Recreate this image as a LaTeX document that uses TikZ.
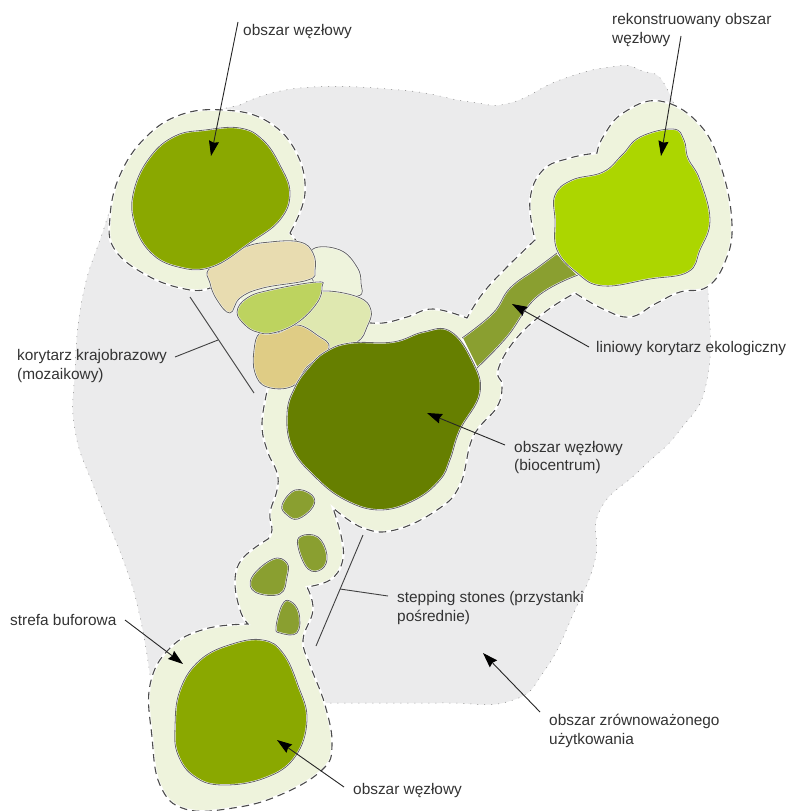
\documentclass[tikz,border=0pt]{standalone}
\usepackage{fontspec}
\setmainfont{Liberation Sans}
\usetikzlibrary{arrows.meta}
\definecolor{areagrey}{HTML}{EBEBEC}
\definecolor{bufcol}{HTML}{EEF3DC}
\definecolor{corecol}{HTML}{8AA800}
\definecolor{biocol}{HTML}{667F00}
\definecolor{recol}{HTML}{ACD600}
\definecolor{corridor}{HTML}{8A9F30}
\definecolor{tanA}{HTML}{E8DCB0}
\definecolor{tanB}{HTML}{DFCC85}
\definecolor{greenM}{HTML}{BDD35F}
\definecolor{paleM}{HTML}{DFE8B0}
\definecolor{inkc}{HTML}{333333}
\tikzset{
  smoothshape/.style={smooth cycle,tension=0.7},
  sm/.style={smooth,tension=0.7},
  halo/.style={draw=white,line width=1.7pt,fill=#1},
  edgeline/.style={draw=black!60,line width=0.8pt},
  lab/.style={font=\fontsize{15.4}{18.5}\selectfont,text=inkc,anchor=west,align=left,inner sep=0pt},
  arr/.style={draw=black!85,line width=0.9pt,-{Stealth[length=15pt,width=10pt,inset=1.5pt,black]}},
  lead/.style={draw=black!75,line width=0.9pt},
}
\newcommand{\patch}[2]{%
  \path[halo=#1] plot[smoothshape] coordinates {#2};
  \path[edgeline] plot[smoothshape] coordinates {#2};
}
\newcommand{\bufferpath}{
  plot[sm] coordinates {(290,233)(305,193)(295,150)(265,120)(223,110)(180,115)(145,138)(120,175)(110,217)(115,250)(150,277)(190,290)(210,288)}
  -- (240,300) -- (280,330) -- (272,380) --
  plot[sm] coordinates {(268,387)(262,423)(267,450)(277,473)(277,490)(270,513)(272,530)(268,539)}
  -- plot[sm] coordinates {(268,539)(243,558)(235,580)(240,610)(248,624)}
  -- plot[sm] coordinates {(248,624)(205,629)(170,648)(150,685)(152,737)(160,785)(185,809)(233,808)(280,795)(322,770)(332,745)(325,705)(310,665)(303,640)(313,610)(307,587)}
  -- plot[sm] coordinates {(307,587)(330,580)(342,563)(342,540)(333,508)}
  -- plot[sm] coordinates {(333,508)(363,528)(395,530)(437,510)(460,485)(473,437)(497,407)(502,385)(498,370)(515,340)(545,312)(575,293)}
  -- plot[sm] coordinates {(575,293)(603,309)(630,317)(655,304)(680,292)(707,287)(725,262)(732,225)(722,170)(700,125)(660,101)(623,113)(603,137)(597,153)}
  -- plot[sm] coordinates {(597,153)(570,158)(543,170)(530,200)(535,240)}
  -- plot[sm] coordinates {(535,240)(507,267)(483,293)(467,318)}
  -- plot[sm] coordinates {(467,318)(433,309)(407,317)(383,323)(362,322)}
  -- cycle
}
\begin{document}
\begin{tikzpicture}[x=1pt,y=-1pt]
\useasboundingbox (0,0) rectangle (792,811);
% managed area
\path[fill=areagrey,draw=black!50,line width=0.5pt,dash pattern=on 1pt off 6pt]
  plot[smooth,tension=.8] coordinates {(240,105)(300,88)(400,90)(470,102)(510,103)(560,80)(610,67)(640,70)(670,95)(700,200)(708,290)(707,380)(680,430)(640,470)(600,510)(595,560)(575,610)(545,670)(510,701)(440,703)(330,703)}
  -- (200,703) -- plot[smooth,tension=.8] coordinates {(150,675)(140,617)(125,565)(95,490)(75,430)(75,370)(82,300)(100,240)(125,180)(170,130)(240,105)};
% buffer zone
\path[fill=bufcol] \bufferpath;
\path[draw=white,line width=2.4pt] \bufferpath;
\path[draw=black!70,line width=1.1pt,dash pattern=on 7.5pt off 5pt] \bufferpath;
% linear corridor
\path[halo=corridor] (557,253) -- plot[sm] coordinates {(557,253)(537,268)(510,288)(493,313)(462,338)} -- (477,368) -- plot[sm] coordinates {(477,368)(507,337)(537,297)(578,275)} -- cycle;
\path[edgeline] plot[sm] coordinates {(557,253)(537,268)(510,288)(493,313)(462,338)};
\path[edgeline] plot[sm] coordinates {(477,368)(507,337)(537,297)(578,275)};
% mosaic corridor
\patch{bufcol}{(313,249)(340,250)(357,267)(361,283)(358,296)(323,292)(310,270)}
\patch{paleM}{(323,291)(358,297)(371,310)(367,327)(357,342)(330,350)(297,325)(310,300)}
\patch{tanB}{(260,333)(277,333)(297,325)(317,335)(329,348)(307,367)(293,386)(267,387)(255,373)(254,350)}
\patch{tanA}{(210,268)(243,248)(270,242)(300,242)(313,253)(315,270)(308,280)(263,288)(240,298)(230,313)(217,300)(210,283)}
\patch{greenM}{(237,312)(247,298)(270,290)(317,282)(322,287)(317,303)(297,323)(273,333)(257,332)(245,325)}
% core areas
\patch{corecol}{(212,267)(178,267)(150,252)(134,222)(134,190)(150,157)(175,136)(205,130)(240,128)(263,140)(280,165)(290,193)(280,220)(250,243)}
\patch{recol}{(555,195)(572,180)(603,172)(622,155)(640,137)(673,129)(684,140)(688,158)(700,180)(710,220)(700,250)(688,272)(650,279)(603,286)(577,273)(557,250)(555,220)}
\patch{biocol}{(295,387)(287,413)(292,448)(315,477)(345,500)(380,510)(415,500)(440,480)(450,460)(460,430)(480,393)(472,360)(450,331)(423,332)(393,342)(350,343)(325,352)(308,368)}
\patch{corecol}{(175,727)(180,690)(200,660)(232,644)(263,640)(283,653)(298,685)(307,720)(295,757)(265,778)(223,785)(195,777)(178,755)}
% stepping stones
\patch{corridor}{(282,505)(295,490)(312,495)(313,507)(298,519)(287,515)}
\patch{corridor}{(298,547)(301,536)(318,537)(327,555)(322,569)(308,569)}
\patch{corridor}{(252,577)(273,559)(287,563)(287,577)(280,594)(255,592)}
\patch{corridor}{(276,627)(282,605)(290,601)(299,613)(297,633)(280,633)}
% labels
\node[lab] (tA) at (243,31.5) {obszar węzłowy};
\node[lab] (tB) at (612,30) {rekonstruowany obszar\\węzłowy};
\node[lab] (tC) at (17,366) {korytarz krajobrazowy\\(mozaikowy)};
\node[lab] (tD) at (596,348.5) {liniowy korytarz ekologiczny};
\node[lab] (tE) at (514,457.5) {obszar węzłowy\\(biocentrum)};
\node[lab] (tF) at (397,608) {stepping stones (przystanki\\pośrednie)};
\node[lab] (tG) at (10,620) {strefa buforowa};
\node[lab] (tH) at (353,790.5) {obszar węzłowy};
\node[lab] (tI) at (549,731) {obszar zrównoważonego\\użytkowania};
% connector ends
\coordinate (sA) at (238,22); \coordinate (eA) at (211,156);
\coordinate (sB) at (681,36); \coordinate (eB) at (661,156);
\coordinate (sD) at (589,347); \coordinate (eD) at (512,304);
\coordinate (sE) at (505,445); \coordinate (eE) at (427,413);
\coordinate (sG) at (125,620); \coordinate (eG) at (183,664);
\coordinate (sH) at (344,787); \coordinate (eH) at (277,740);
\coordinate (sI) at (540,712); \coordinate (eI) at (483,653);
\coordinate (kA) at (190,297); \coordinate (kB) at (254,393);
\coordinate (kC) at (175,357); \coordinate (kD) at (218,340);
\coordinate (pA) at (363,535); \coordinate (pB) at (316,646);
\coordinate (pC) at (340,589); \coordinate (pD) at (388,596);
\draw[arr] (sA) -- (eA);
\draw[arr] (sB) -- (eB);
\draw[arr] (sD) -- (eD);
\draw[arr] (sE) -- (eE);
\draw[arr] (sG) -- (eG);
\draw[arr] (sH) -- (eH);
\draw[arr] (sI) -- (eI);
\draw[lead] (kA) -- (kB);
\draw[lead] (kC) -- (kD);
\draw[lead] (pA) -- (pB);
\draw[lead] (pC) -- (pD);
\end{tikzpicture}
\end{document}
